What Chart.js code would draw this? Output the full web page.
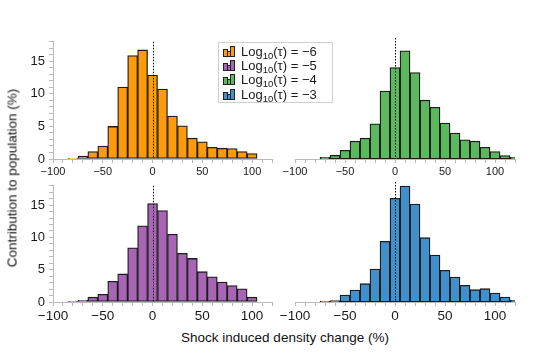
<!DOCTYPE html>
<html><head><meta charset="utf-8">
<script src="https://cdn.jsdelivr.net/npm/chart.js@4/dist/chart.umd.min.js"></script>
<style>
html,body{margin:0;padding:0;background:#fff;}
body{width:533px;height:359px;position:relative;overflow:hidden;font-family:"Liberation Sans",Arial,sans-serif;color:#1a1a1a;}
canvas{position:absolute;}
#legend{position:absolute;left:218px;top:42px;width:115px;height:61px;border:1px solid #d0d0d0;background:#fff;box-sizing:border-box;padding:2px 0 0 4px;}
.li{height:14.2px;font-size:13px;line-height:14px;white-space:nowrap;display:flex;align-items:center;}
.ic{display:inline-flex;align-items:flex-end;height:10px;width:13px;margin-right:5px;}
.ic span{display:inline-block;width:2.5px;border:0.8px solid #222;margin-right:-0.8px;}
.li sub{font-size:9.5px;vertical-align:-3px;line-height:0;}
#ytitle{position:absolute;left:12px;top:178px;transform:translate(-50%,-50%) rotate(-90deg);font-size:13.5px;white-space:nowrap;color:#111;}
#xtitle{position:absolute;left:285px;top:337px;transform:translate(-50%,-50%);font-size:13.5px;white-space:nowrap;color:#111;}
</style></head>
<body>
<canvas id="c0" width="280" height="150" style="left:0;top:30px"></canvas>
<canvas id="c1" width="250" height="150" style="left:275px;top:30px"></canvas>
<canvas id="c2" width="280" height="150" style="left:0;top:174px"></canvas>
<canvas id="c3" width="250" height="150" style="left:275px;top:174px"></canvas>
<div id="legend"></div>
<div id="ytitle">Contribution to population (%)</div>
<div id="xtitle">Shock induced density change (%)</div>
<script>
// Bin centres (%), bin width 10
const binCenters = [-80,-70,-60,-50,-40,-30,-20,-10,0,10,20,30,40,50,60,70,80,90,100,110,120];
// Contribution to population (%) per bin
const logTauM6 = [0.1,0.45,1.15,2.0,5.0,11.05,15.9,16.75,12.9,10.75,6.6,5.1,3.2,2.65,1.8,1.65,1.6,1.15,0.85,null,null];
const logTauM5 = [0.1,0.25,0.75,1.2,3.2,4.35,8.4,11.8,15.25,14.15,10.5,7.55,6.75,4.7,3.9,3.1,2.55,2.05,0.75,null,null];
const logTauM4 = [null,0.25,0.55,1.3,2.65,3.1,5.25,10.1,13.6,16.1,12.85,8.75,7.7,5.35,3.85,2.85,2.65,1.75,1.1,0.5,0.25];
const logTauM3 = [null,0.1,0.2,1.05,1.8,2.75,4.95,9.1,15.55,17.4,14.7,9.65,7.05,4.75,3.75,2.5,1.85,2.0,1.35,0.75,0.25];
const seriesLabels = ['−6','−5','−4','−3'];
const seriesColors = ['#ff9a0a','#a865b5','#5cb85c','#4190cb'];
// Tick labels
const xTickValues = [-100,-50,0,50,100];
const xTickLabels = ['−100','−50','0','50','100'];
const yTickValues = [0,5,10,15];
const yTickLabels = ['0','5','10','15'];

const zeroLine = {
  id:'zeroLine',
  afterDatasetsDraw(chart){
    const {ctx, chartArea, scales} = chart;
    const x = Math.round(scales.x.getPixelForValue(0)) + 0.5;
    ctx.save();
    ctx.strokeStyle = '#000';
    ctx.lineWidth = 1;
    ctx.setLineDash([1.5,1.5]);
    ctx.beginPath();
    ctx.moveTo(x, chartArea.top);
    ctx.lineTo(x, chartArea.bottom);
    ctx.stroke();
    ctx.restore();
  }
};

function makeChart(id, values, color, showY, xFontSize, xAxisH) {
  const data = binCenters.map((c,i)=>({x:c, y:values[i]})).filter(d=>d.y!==null);
  new Chart(document.getElementById(id), {
    type:'bar',
    data:{datasets:[{data, backgroundColor:color, borderColor:'#1c1c1c', borderWidth:1.3,
      borderSkipped:false, barPercentage:1, categoryPercentage:1}]},
    options:{
      responsive:false, animation:false, devicePixelRatio:1,
      layout:{padding: showY ? {left:0,right:8,top:8,bottom:0} : {left:20,right:10,top:8,bottom:0}},
      plugins:{legend:{display:false}, tooltip:{enabled:false}},
      scales:{
        x:{type:'linear', min:-100, max:120, offset:false,
          grid:{drawOnChartArea:false, offset:false, color:'#bbb', tickLength:4, lineWidth:1},
          border:{color:'#bbb', width:1},
          afterFit(s){ s.height = xAxisH; },
          ticks:{stepSize:10, autoSkip:false, maxRotation:0, padding:2, color:'#1a1a1a',
            font:{family:'Liberation Sans', size:xFontSize},
            callback(v){ const k = xTickValues.indexOf(v); return k>=0 ? xTickLabels[k] : ''; }}
        },
        y:{display:showY, min:0, max:18,
          grid:{drawOnChartArea:false, color:'#bbb', tickLength:4},
          border:{color:'#bbb', width:1},
          afterFit(s){ s.width = showY ? 53 : 0; },
          ticks:{stepSize:1, autoSkip:false, padding:4, color:'#1a1a1a',
            font:{family:'Liberation Sans', size:13},
            callback(v){ const k = yTickValues.indexOf(v); return k>=0 ? yTickLabels[k] : ''; }}
        }
      }
    },
    plugins:[zeroLine]
  });
}
makeChart('c0', logTauM6, seriesColors[0], true, 11, 21);
makeChart('c1', logTauM4, seriesColors[2], false, 11, 21);
makeChart('c2', logTauM5, seriesColors[1], true, 13.5, 22);
makeChart('c3', logTauM3, seriesColors[3], false, 13.5, 22);

// HTML legend (for the subscript)
const lg = document.getElementById('legend');
seriesLabels.forEach((lab,i)=>{
  const row = document.createElement('div'); row.className='li';
  const ic = document.createElement('span'); ic.className='ic';
  [6,4,9].forEach(h=>{ const b=document.createElement('span'); b.style.height=h+'px'; b.style.background=seriesColors[i]; ic.appendChild(b); });
  row.appendChild(ic);
  const t = document.createElement('span');
  t.innerHTML = 'Log<sub>10</sub>(τ) = ' + lab;
  row.appendChild(t);
  lg.appendChild(row);
});
</script>
</body></html>
